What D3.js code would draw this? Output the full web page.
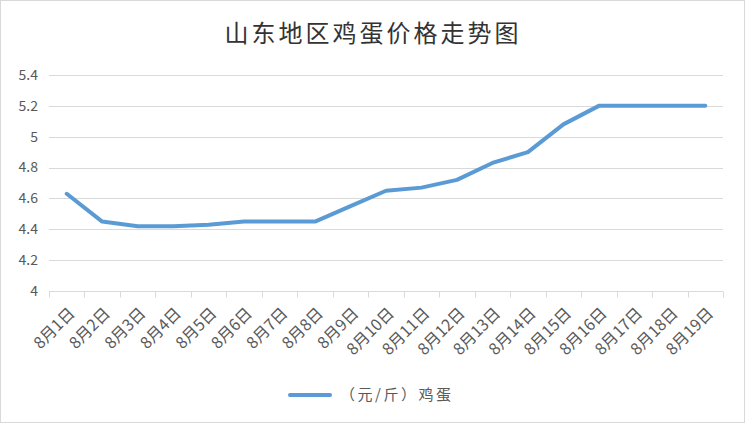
<!DOCTYPE html>
<html>
<head>
<meta charset="utf-8">
<script src="https://cdn.jsdelivr.net/npm/d3@7"></script>
<style>
  body { margin: 0; background: #fff; }
  svg { display: block; font-family: "Noto Sans CJK SC", "Noto Sans", sans-serif; }
</style>
</head>
<body>
<div id="chart"></div>
<script>
var days = ["8月1日", "8月2日", "8月3日", "8月4日", "8月5日", "8月6日", "8月7日", "8月8日", "8月9日", "8月10日",
            "8月11日", "8月12日", "8月13日", "8月14日", "8月15日", "8月16日", "8月17日", "8月18日", "8月19日"];
var prices = [4.63, 4.45, 4.42, 4.42, 4.43, 4.45, 4.45, 4.45, 4.55, 4.65,
              4.67, 4.72, 4.83, 4.90, 5.08, 5.20, 5.20, 5.20, 5.20];
var yTicks = [4, 4.2, 4.4, 4.6, 4.8, 5, 5.2, 5.4];
var seriesName = "（元/斤）鸡蛋";
var title = "山东地区鸡蛋价格走势图";

var width = 746,
    height = 425,
    margin = { top: 75, right: 23, bottom: 133, left: 49 };

var svg = d3.select("#chart").append("svg")
    .attr("width", width)
    .attr("height", height);

// outer frame
svg.append("rect")
    .attr("x", 0.5).attr("y", 0.5)
    .attr("width", width - 2).attr("height", height - 3)
    .attr("fill", "#fff")
    .attr("stroke", "#d9d9d9");

svg.append("text")
    .attr("x", 373)
    .attr("y", 42)
    .attr("text-anchor", "middle")
    .attr("fill", "#333")
    .style("font-size", "24px")
    .style("letter-spacing", "3px")
    .text(title);

var x = d3.scaleBand()
    .domain(days)
    .range([margin.left, width - margin.right]);

var y = d3.scaleLinear()
    .domain([4, 5.4])
    .range([height - margin.bottom - 1, margin.top]);

var g = svg.append("g");

// gridlines
g.append("g")
    .selectAll("line")
    .data(yTicks.slice(1))
    .enter().append("line")
    .attr("x1", margin.left)
    .attr("x2", width - margin.right)
    .attr("y1", function(d) { return Math.round(y(d)) + 0.5; })
    .attr("y2", function(d) { return Math.round(y(d)) + 0.5; })
    .attr("stroke", "#d9d9d9");

// y labels
g.append("g")
    .selectAll("text")
    .data(yTicks)
    .enter().append("text")
    .attr("x", 38)
    .attr("y", function(d) { return y(d); })
    .attr("dy", "0.35em")
    .attr("text-anchor", "end")
    .attr("fill", "#595959")
    .style("font-size", "14px")
    .text(function(d) { return d; });

// x axis
var xAxis = g.append("g")
    .attr("transform", "translate(0," + (Math.round(y(4)) + 0.5) + ")");

xAxis.append("line")
    .attr("x1", margin.left)
    .attr("x2", width - margin.right)
    .attr("stroke", "#d9d9d9");

var bounds = days.map(function(d) { return x(d); }).concat([x.range()[1]]);
xAxis.selectAll("line.tick")
    .data(bounds)
    .enter().append("line")
    .attr("class", "tick")
    .attr("x1", function(d) { return Math.round(d) + 0.5; })
    .attr("x2", function(d) { return Math.round(d) + 0.5; })
    .attr("y1", 0)
    .attr("y2", 6)
    .attr("stroke", "#d9d9d9");

xAxis.selectAll("text")
    .data(days)
    .enter().append("text")
    .attr("transform", function(d) {
        return "translate(" + (x(d) + x.bandwidth() / 2 + 5) + ",19) rotate(-45)";
    })
    .attr("text-anchor", "end")
    .attr("dy", "0.35em")
    .attr("fill", "#595959")
    .style("font-size", "16px")
    .text(function(d) { return d; });

// price line
var line = d3.line()
    .x(function(d, i) { return x(days[i]) + x.bandwidth() / 2; })
    .y(function(d) { return y(d); });

g.append("path")
    .datum(prices)
    .attr("d", line)
    .attr("fill", "none")
    .attr("stroke", "#5b9bd5")
    .attr("stroke-width", 4)
    .attr("stroke-linejoin", "round")
    .attr("stroke-linecap", "round");

// legend
var legend = svg.append("g").attr("transform", "translate(290,395)");
legend.append("line")
    .attr("x1", 0).attr("x2", 40)
    .attr("stroke", "#5b9bd5")
    .attr("stroke-width", 4)
    .attr("stroke-linecap", "round");
legend.append("text")
    .attr("x", 50)
    .attr("dy", "0.35em")
    .attr("fill", "#595959")
    .style("font-size", "15px")
    .style("letter-spacing", "2.5px")
    .text(seriesName);
</script>
</body>
</html>
